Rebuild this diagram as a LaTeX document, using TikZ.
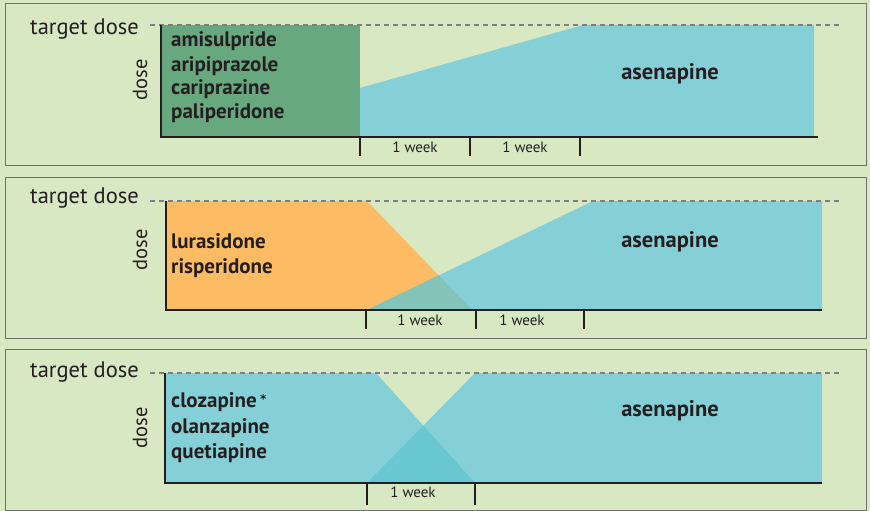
\documentclass[tikz,border=0pt]{standalone}
\usepackage{fontspec}
\setmainfont{PT Sans}
\newfontfamily\starfont{DejaVu Sans}
\definecolor{bggreen}{HTML}{D8E8C2}
\definecolor{framegray}{HTML}{707070}
\definecolor{dashgray}{HTML}{7F7F7F}
\definecolor{darktext}{HTML}{231F20}
\definecolor{oldgreen}{HTML}{68A87E}
\definecolor{oldorange}{HTML}{FDBC64}
\definecolor{newblue}{HTML}{85D0D7}
\definecolor{mixteal}{HTML}{83C3B8}
\definecolor{mixblue}{HTML}{68C7D0}
\begin{document}
\begin{tikzpicture}[x=1pt,y=-1pt,
  every node/.style={inner sep=0pt,text=darktext},
  drug/.style={anchor=base west,font=\fontsize{21}{24}\selectfont\bfseries},
  newdrug/.style={anchor=base,font=\fontsize{22.5}{26}\selectfont\bfseries},
  weeklbl/.style={anchor=base,font=\fontsize{15}{18}\selectfont},
  targetlbl/.style={anchor=base east,font=\fontsize{22.5}{26}\selectfont},
  doselbl/.style={rotate=90,font=\fontsize{20.5}{24}\selectfont},
  targetline/.style={dashgray,line width=2.5pt,dash pattern=on 5pt off 4pt},
  axisline/.style={darktext,line width=1.2pt},
  tick/.style={darktext,line width=1.6pt},
  panel/.style={draw=framegray,line width=1pt}]
\useasboundingbox[fill=bggreen] (0,0) rectangle (870,511);
% frames
\draw[panel] (5.5,4) rectangle (866.5,165);
\draw[panel] (5.5,177) rectangle (866.5,338);
\draw[panel] (5.5,349) rectangle (866.5,510);

% switch in one go
\fill[oldgreen] (161,25) rectangle (360,137);
\fill[newblue] (360,137) -- (360,88) -- (583,25) -- (814,25) -- (814,137) -- cycle;
\draw[targetline] (150,25) -- (842,25);
\draw[axisline] (161,25) -- (161,137) -- (818,137);
\draw[tick] (360,137) -- (360,156) (470,137) -- (470,156) (580,137) -- (580,156);
\node[targetlbl] (target1) at (139,35) {target dose};
\node[doselbl] (dose1) at (140,80) {dose};
\node[drug] (amisulpride) at (171,47) {amisulpride};
\node[drug] (aripiprazole) at (171,71) {aripiprazole};
\node[drug] (cariprazine) at (171,95) {cariprazine};
\node[drug] (paliperidone) at (171,118) {paliperidone};
\node[newdrug] (asenapine1) at (670,80) {asenapine};
\node[weeklbl] (week1a) at (415,152) {1 week};
\node[weeklbl] (week1b) at (525,152) {1 week};

% cross-taper over one week
\fill[oldorange] (166,201) -- (367,201) -- (472,310) -- (166,310) -- cycle;
\fill[newblue] (367,310) -- (593,201) -- (822,201) -- (822,310) -- cycle;
\fill[mixteal] (367,310) -- (438.7,275.4) -- (472,310) -- cycle;
\draw[targetline] (150,201) -- (842,201);
\draw[axisline] (166,201) -- (166,310) -- (822,310);
\draw[tick] (366,310) -- (366,329) (476,310) -- (476,329) (584,310) -- (584,329);
\node[targetlbl] (target2) at (139,203) {target dose};
\node[doselbl] (dose2) at (140,250) {dose};
\node[drug] (lurasidone) at (171,248) {lurasidone};
\node[drug] (risperidone) at (171,273) {risperidone};
\node[newdrug] (asenapine2) at (670,247) {asenapine};
\node[weeklbl] (week2a) at (420,325) {1 week};
\node[weeklbl] (week2b) at (522,325) {1 week};

% cross-taper, short
\fill[newblue] (165,373) -- (376,373) -- (475,483) -- (165,483) -- cycle;
\fill[newblue] (367,483) -- (475,373) -- (822,373) -- (822,483) -- cycle;
\fill[mixblue] (367,483) -- (423.3,425.6) -- (475,483) -- cycle;
\draw[targetline] (150,373) -- (842,373);
\draw[axisline] (165,373) -- (165,483) -- (822,483);
\draw[tick] (367,483) -- (367,505) (475,483) -- (475,505);
\node[targetlbl] (target3) at (139,377) {target dose};
\node[doselbl] (dose3) at (140,428) {dose};
\node[drug] (clozapine) at (171,407) {clozapine\,\raisebox{4pt}{\starfont\fontsize{12}{12}\selectfont *}};
\node[drug] (olanzapine) at (171,433) {olanzapine};
\node[drug] (quetiapine) at (171,458) {quetiapine};
\node[newdrug] (asenapine3) at (670,416) {asenapine};
\node[weeklbl] (week3) at (413,497) {1 week};
\end{tikzpicture}
\end{document}
